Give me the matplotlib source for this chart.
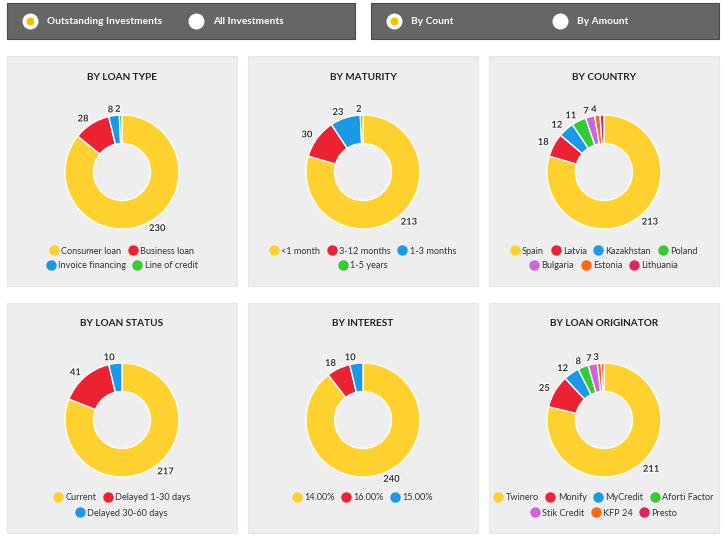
import matplotlib
matplotlib.use('Agg')
import matplotlib.pyplot as plt
from matplotlib.patches import Rectangle
from matplotlib.lines import Line2D
import matplotlib.patheffects as pe

plt.rcParams['font.family'] = ['Lato', 'DejaVu Sans']

W, H = 725, 542

YELLOW = '#FFD12E'
RED = '#EC2233'
BLUE = '#1A99E6'
GREEN = '#33CC33'
PURPLE = '#CC66DD'
ORANGE = '#FF6611'
CRIMSON = '#E3245C'
PALETTE = [YELLOW, RED, BLUE, GREEN, PURPLE, ORANGE, CRIMSON]

# data
loan_type_labels = ['Consumer loan', 'Business loan', 'Invoice financing', 'Line of credit']
loan_type_values = [230, 28, 8, 2]

maturity_labels = ['<1 month', '3-12 months', '1-3 months', '1-5 years']
maturity_values = [213, 30, 23, 2]

country_labels = ['Spain', 'Latvia', 'Kazakhstan', 'Poland', 'Bulgaria', 'Estonia', 'Lithuania']
country_values = [213, 18, 12, 11, 7, 4, 3]

status_labels = ['Current', 'Delayed 1-30 days', 'Delayed 30-60 days']
status_values = [217, 41, 10]

interest_labels = ['14.00%', '16.00%', '15.00%']
interest_values = [240, 18, 10]

originator_labels = ['Twinero', 'Monify', 'MyCredit', 'Aforti Factor', 'Stik Credit', 'KFP 24', 'Presto']
originator_values = [211, 25, 12, 8, 7, 3, 2]

# title, legend labels, values, items per legend row, label the last slice?
panels = [
    ('BY LOAN TYPE', loan_type_labels, loan_type_values, [2, 2], True),
    ('BY MATURITY', maturity_labels, maturity_values, [3, 1], True),
    ('BY COUNTRY', country_labels, country_values, [4, 3], False),
    ('BY LOAN STATUS', status_labels, status_values, [2, 1], True),
    ('BY INTEREST', interest_labels, interest_values, [3], True),
    ('BY LOAN ORIGINATOR', originator_labels, originator_values, [4, 3], False),
]

fig = plt.figure(figsize=(W / 100, H / 100), dpi=100)

# background layer in pixel coordinates
bg = fig.add_axes([0, 0, 1, 1])
bg.set_xlim(0, W)
bg.set_ylim(H, 0)
bg.axis('off')

# top toggle bars
for x0, x1, opts in [(7, 355, [(30, 'Outstanding Investments', True), (196, 'All Investments', False)]),
                     (371, 719, [(394, 'By Count', True), (560, 'By Amount', False)])]:
    bg.add_patch(Rectangle((x0, 3), x1 - x0, 36, facecolor='#666666', edgecolor='#4a4a4a', lw=0.8))
    for cx, txt, sel in opts:
        bg.scatter([cx], [21], s=110, color='white', zorder=3)
        if sel:
            bg.scatter([cx], [21], s=22, color='#F2C200', zorder=4)
        bg.text(cx + 17, 21, txt, color='white', fontsize=7.3, fontweight='bold', va='center', ha='left')

col_x = [(7, 237), (248, 478), (489, 719)]
row_y = [(56, 286), (303, 533)]
R = 57

for i, (title, labels, values, rows, last_label) in enumerate(panels):
    (x0, x1) = col_x[i % 3]
    (y0, y1) = row_y[i // 3]
    bg.add_patch(Rectangle((x0, y0), x1 - x0, y1 - y0, facecolor='#EEEEEE', edgecolor='#E6E6E6', lw=0.8))
    cx = (x0 + x1) / 2
    cy = y0 + 116 if i // 3 == 0 else y0 + 117
    bg.text(cx, y0 + 21, title, ha='center', va='center', fontsize=7.2, fontweight='bold', color='#222222')

    ax = fig.add_axes([(cx - R) / W, 1 - (cy + R) / H, 2 * R / W, 2 * R / H])
    colors = PALETTE[:len(values)]
    txt = [str(v) for v in values]
    if not last_label:
        txt[-1] = ''
    wedges, texts = ax.pie(values, colors=colors, startangle=90, counterclock=False,
                           labels=txt, labeldistance=1.1,
                           wedgeprops=dict(width=0.5, edgecolor='white', linewidth=1),
                           textprops=dict(fontsize=6.8, fontweight='bold', color='#333333'))
    for t in texts:
        t.set_path_effects([pe.withStroke(linewidth=1.5, foreground='white')])
    ax.set_xlim(-1, 1)
    ax.set_ylim(-1, 1)
    ax.patch.set_visible(False)

    # legend rows, each centred on its own
    start = 0
    for r, n in enumerate(rows):
        handles = [Line2D([], [], marker='o', ls='none', markersize=6.5,
                          markerfacecolor=c, markeredgecolor=c) for c in colors[start:start + n]]
        ly = y0 + 195 + r * 15
        fig.legend(handles, labels[start:start + n], loc='center',
                   bbox_to_anchor=(cx / W, 1 - ly / H), ncol=n, frameon=False,
                   fontsize=6.6, handletextpad=0.35, columnspacing=0.8, handlelength=0.9,
                   borderpad=0, borderaxespad=0, labelcolor='#333333')
        start += n

fig.savefig('out.png', dpi=100, facecolor='white')
